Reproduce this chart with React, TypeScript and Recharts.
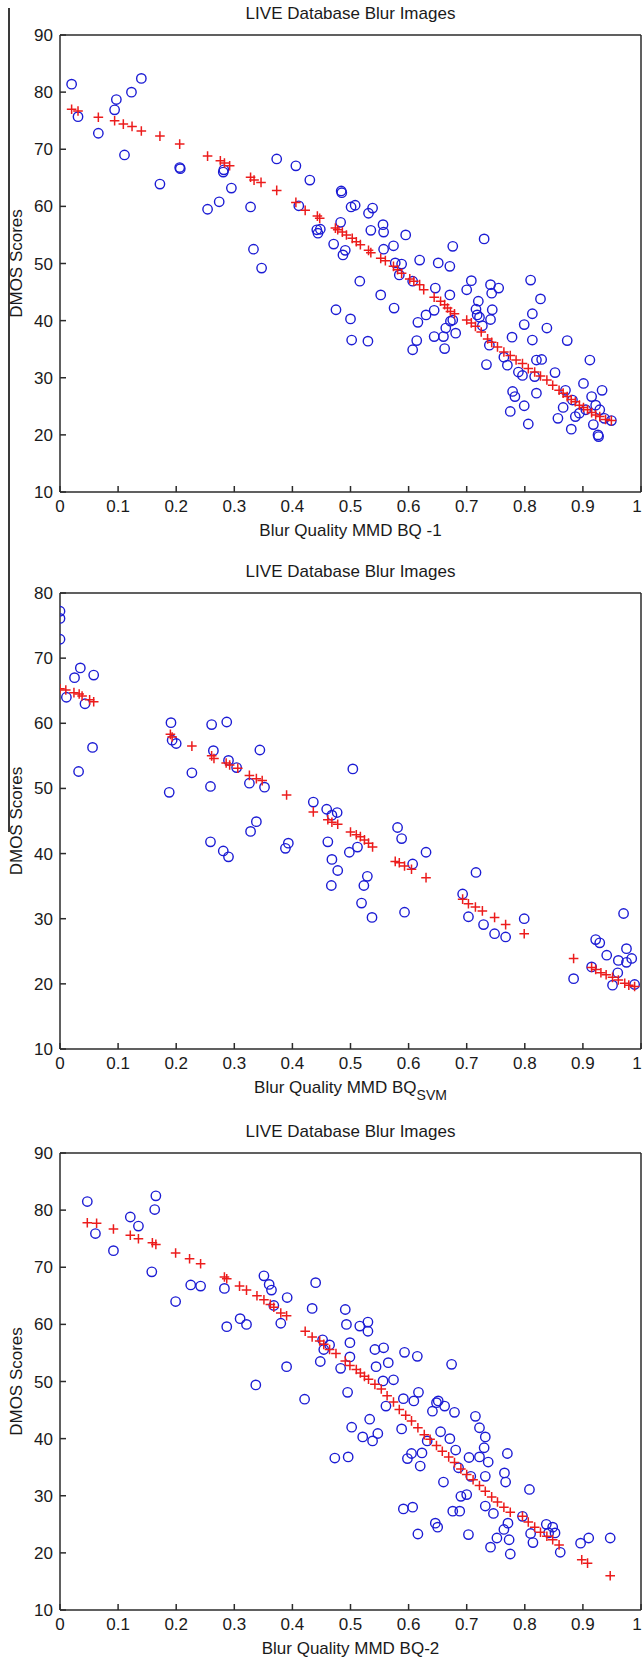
import React from 'react'
import { ScatterChart, Scatter, XAxis, YAxis, Label } from 'recharts'

const BLUE = '#1c1cd4'
const RED = '#ec1c1c'
const AXIS = '#2b2b2b'
const INK = '#1a1a1a'
const FONT = "'Liberation Sans', Arial, Helvetica, sans-serif"

const TITLE = 'LIVE Database Blur Images'
const Y_LABEL = 'DMOS Scores'
const X_TICKS = [0, 0.1, 0.2, 0.3, 0.4, 0.5, 0.6, 0.7, 0.8, 0.9, 1]
const Y_TICKS_90 = [10, 20, 30, 40, 50, 60, 70, 80, 90]
const Y_TICKS_80 = [10, 20, 30, 40, 50, 60, 70, 80]

type Pt = [number, number]

// BQ-1: subjective scores (circles) and fitted values (plus signs)
const bq1Scores: Pt[] = [
  [0.020, 81.4], [0.031, 75.7], [0.066, 72.8], [0.094, 76.9], [0.097, 78.7], [0.111, 69.0], [0.123, 80.0], [0.140, 82.4],
  [0.172, 63.9], [0.206, 66.8], [0.207, 66.6], [0.254, 59.5], [0.274, 60.8], [0.281, 66.0], [0.282, 66.4], [0.295, 63.2],
  [0.328, 59.9], [0.333, 52.5], [0.347, 49.2], [0.373, 68.3], [0.406, 67.1], [0.411, 60.1], [0.430, 64.6], [0.442, 55.9],
  [0.444, 55.3], [0.448, 56.0], [0.471, 53.4], [0.475, 41.9], [0.484, 62.7], [0.485, 62.4], [0.483, 57.2], [0.487, 51.5],
  [0.491, 52.3], [0.501, 59.9], [0.500, 40.3], [0.508, 60.2], [0.516, 46.9], [0.531, 58.8], [0.535, 55.8], [0.538, 59.7],
  [0.552, 44.5], [0.556, 56.8], [0.557, 55.5], [0.557, 52.5], [0.574, 53.1], [0.575, 42.2], [0.577, 50.1], [0.588, 49.9],
  [0.584, 48.0], [0.595, 55.0], [0.607, 46.9], [0.619, 50.6], [0.646, 45.7], [0.644, 41.8], [0.651, 50.1], [0.671, 49.5],
  [0.671, 44.5], [0.676, 53.0], [0.700, 45.4], [0.708, 47.0], [0.730, 54.3], [0.720, 43.4], [0.716, 42.0], [0.718, 41.0],
  [0.741, 46.3], [0.743, 44.8], [0.755, 45.7], [0.744, 41.9], [0.810, 47.1], [0.827, 43.8], [0.813, 41.2], [0.799, 39.3],
  [0.838, 38.7], [0.630, 41.0], [0.616, 39.7], [0.676, 40.1], [0.664, 38.7], [0.741, 40.2], [0.502, 36.6], [0.530, 36.4],
  [0.607, 34.9], [0.614, 36.5], [0.644, 37.2], [0.660, 37.2], [0.662, 35.1], [0.672, 39.9], [0.681, 37.8], [0.722, 40.6],
  [0.727, 39.1], [0.734, 32.3], [0.739, 35.7], [0.764, 33.6], [0.770, 32.2], [0.775, 24.1], [0.778, 37.1], [0.779, 27.6],
  [0.783, 26.7], [0.789, 31.0], [0.796, 30.4], [0.799, 25.1], [0.806, 21.9], [0.813, 36.6], [0.817, 30.2], [0.820, 33.1],
  [0.820, 27.3], [0.829, 33.2], [0.852, 30.9], [0.857, 22.9], [0.866, 24.8], [0.870, 27.8], [0.873, 36.5], [0.880, 21.0],
  [0.882, 26.1], [0.887, 23.2], [0.894, 23.8], [0.901, 29.0], [0.905, 24.4], [0.912, 33.1], [0.915, 26.7], [0.918, 21.8],
  [0.926, 20.0], [0.927, 19.7], [0.933, 27.8], [0.937, 22.9], [0.949, 22.5], [0.922, 25.2], [0.929, 24.4],
]
const bq1Fit: Pt[] = [
  [0.020, 77.0], [0.031, 76.7], [0.066, 75.6], [0.094, 75.0], [0.109, 74.4], [0.124, 74.0], [0.140, 73.2], [0.172, 72.3],
  [0.206, 70.9], [0.254, 68.8], [0.276, 68.0], [0.283, 67.6], [0.292, 67.1], [0.328, 65.1], [0.334, 64.6], [0.346, 64.2],
  [0.373, 62.8], [0.406, 60.7], [0.422, 59.3], [0.443, 58.3], [0.447, 57.9], [0.474, 56.2], [0.478, 55.9], [0.486, 55.5],
  [0.493, 55.0], [0.503, 54.4], [0.510, 53.8], [0.517, 53.3], [0.531, 52.3], [0.535, 51.9], [0.552, 50.9], [0.560, 50.5],
  [0.574, 49.5], [0.581, 48.9], [0.588, 48.3], [0.602, 47.3], [0.609, 46.9], [0.619, 46.3], [0.626, 45.4], [0.644, 44.1],
  [0.655, 43.4], [0.662, 42.8], [0.667, 42.2], [0.672, 41.6], [0.679, 41.2], [0.700, 40.1], [0.708, 39.6], [0.715, 39.0],
  [0.725, 38.0], [0.736, 36.8], [0.743, 36.2], [0.753, 35.4], [0.764, 34.5], [0.775, 33.9], [0.785, 33.1], [0.796, 32.5],
  [0.806, 31.6], [0.817, 31.0], [0.827, 30.3], [0.838, 29.6], [0.848, 28.7], [0.859, 27.8], [0.866, 27.3], [0.873, 26.7],
  [0.880, 26.2], [0.887, 25.8], [0.894, 25.2], [0.901, 24.8], [0.908, 24.4], [0.915, 23.9], [0.922, 23.5], [0.929, 23.2],
  [0.939, 22.7], [0.949, 22.5],
]

// BQ-SVM
const svmScores: Pt[] = [
  [0.000, 77.2], [0.000, 76.1], [0.000, 72.9], [0.011, 64.0], [0.025, 67.0], [0.035, 68.5], [0.032, 52.6], [0.043, 63.0],
  [0.058, 67.4], [0.056, 56.3], [0.191, 60.1], [0.188, 49.4], [0.193, 57.4], [0.200, 56.9], [0.227, 52.4], [0.261, 59.8],
  [0.259, 50.3], [0.264, 55.8], [0.287, 60.2], [0.290, 54.3], [0.304, 53.2], [0.326, 50.8], [0.328, 43.4], [0.338, 44.9],
  [0.344, 55.9], [0.352, 50.2], [0.436, 47.9], [0.459, 46.8], [0.468, 45.9], [0.477, 46.3], [0.504, 53.0], [0.581, 44.0],
  [0.588, 42.3], [0.259, 41.8], [0.281, 40.4], [0.290, 39.5], [0.388, 40.8], [0.393, 41.6], [0.461, 41.8], [0.468, 39.1],
  [0.467, 35.1], [0.478, 37.4], [0.498, 40.2], [0.512, 41.0], [0.519, 32.4], [0.523, 35.1], [0.529, 36.5], [0.537, 30.2],
  [0.593, 31.0], [0.607, 38.4], [0.630, 40.2], [0.693, 33.8], [0.703, 30.3], [0.716, 37.1], [0.729, 29.1], [0.748, 27.7],
  [0.767, 27.2], [0.799, 30.0], [0.884, 20.8], [0.915, 22.6], [0.922, 26.8], [0.929, 26.3], [0.941, 24.4], [0.951, 19.8],
  [0.960, 21.7], [0.961, 23.6], [0.970, 30.8], [0.975, 25.4], [0.975, 23.3], [0.984, 23.9], [0.989, 19.9],
]
const svmFit: Pt[] = [
  [0.000, 65.3], [0.010, 65.1], [0.024, 64.7], [0.033, 64.5], [0.038, 64.2], [0.051, 63.6], [0.058, 63.3], [0.190, 58.3],
  [0.193, 57.9], [0.227, 56.5], [0.261, 55.0], [0.265, 54.6], [0.286, 53.9], [0.292, 53.6], [0.306, 53.1], [0.326, 52.0],
  [0.338, 51.5], [0.348, 51.2], [0.390, 49.0], [0.436, 46.4], [0.461, 45.2], [0.468, 44.8], [0.478, 44.5], [0.500, 43.3],
  [0.510, 42.9], [0.517, 42.6], [0.524, 42.1], [0.531, 41.6], [0.538, 41.0], [0.577, 38.8], [0.584, 38.6], [0.593, 38.1],
  [0.605, 37.6], [0.630, 36.3], [0.693, 33.0], [0.703, 32.3], [0.715, 31.8], [0.727, 31.2], [0.748, 30.2], [0.767, 29.1],
  [0.799, 27.7], [0.884, 23.9], [0.915, 22.5], [0.922, 22.2], [0.931, 21.7], [0.940, 21.4], [0.951, 21.0], [0.961, 20.6],
  [0.972, 20.1], [0.979, 19.8], [0.989, 19.6],
]

// BQ-2
const bq2Scores: Pt[] = [
  [0.047, 81.5], [0.061, 75.9], [0.092, 72.9], [0.121, 78.8], [0.135, 77.2], [0.158, 69.2], [0.163, 80.1], [0.165, 82.5],
  [0.199, 64.0], [0.225, 66.9], [0.242, 66.7], [0.283, 66.3], [0.287, 59.6], [0.310, 61.0], [0.321, 60.0], [0.351, 68.5],
  [0.360, 67.0], [0.364, 66.0], [0.368, 63.3], [0.380, 60.2], [0.391, 64.7], [0.390, 52.6], [0.434, 62.8], [0.440, 67.3],
  [0.448, 53.5], [0.452, 57.3], [0.464, 56.4], [0.454, 55.6], [0.483, 52.3], [0.491, 62.6], [0.493, 60.0], [0.499, 56.8],
  [0.499, 54.3], [0.516, 59.7], [0.530, 60.4], [0.530, 58.8], [0.542, 55.6], [0.544, 52.6], [0.557, 55.9], [0.565, 53.3],
  [0.593, 55.1], [0.615, 54.4], [0.674, 53.0], [0.337, 49.4], [0.421, 46.9], [0.473, 36.6], [0.496, 36.8], [0.495, 48.1],
  [0.502, 42.0], [0.521, 40.3], [0.533, 43.4], [0.538, 39.6], [0.547, 40.9], [0.556, 50.1], [0.574, 50.3], [0.561, 45.7],
  [0.591, 47.0], [0.588, 41.7], [0.591, 27.7], [0.607, 28.0], [0.598, 36.5], [0.605, 37.4], [0.609, 46.6], [0.617, 48.1],
  [0.616, 23.3], [0.620, 35.2], [0.623, 37.5], [0.632, 39.6], [0.641, 44.8], [0.648, 46.3], [0.651, 46.6], [0.646, 25.2],
  [0.650, 24.5], [0.655, 41.2], [0.660, 32.4], [0.662, 45.7], [0.671, 40.0], [0.676, 27.3], [0.679, 44.6], [0.681, 38.0],
  [0.686, 34.9], [0.690, 29.9], [0.688, 27.3], [0.700, 30.2], [0.703, 23.2], [0.704, 36.7], [0.707, 33.4], [0.715, 43.9],
  [0.722, 41.9], [0.722, 36.8], [0.730, 38.4], [0.732, 33.4], [0.732, 40.3], [0.732, 28.2], [0.737, 35.9], [0.741, 21.0],
  [0.746, 26.9], [0.752, 22.6], [0.764, 24.1], [0.765, 34.0], [0.767, 32.4], [0.770, 37.4], [0.771, 25.2], [0.773, 22.3],
  [0.775, 19.8], [0.796, 26.4], [0.808, 31.1], [0.810, 23.4], [0.814, 21.8], [0.837, 25.0], [0.841, 23.5], [0.848, 24.5],
  [0.852, 23.5], [0.861, 20.1], [0.896, 21.7], [0.910, 22.6], [0.947, 22.6],
]
const bq2Fit: Pt[] = [
  [0.047, 77.8], [0.063, 77.7], [0.092, 76.7], [0.121, 75.6], [0.135, 75.0], [0.159, 74.3], [0.165, 74.0], [0.199, 72.5],
  [0.223, 71.5], [0.242, 70.6], [0.283, 68.3], [0.287, 68.0], [0.309, 66.7], [0.321, 66.0], [0.339, 65.0], [0.351, 64.3],
  [0.362, 63.5], [0.368, 63.0], [0.380, 62.0], [0.390, 61.5], [0.422, 58.8], [0.434, 57.8], [0.447, 57.1], [0.454, 56.5],
  [0.464, 55.6], [0.475, 54.9], [0.491, 53.6], [0.499, 52.8], [0.510, 52.1], [0.517, 51.5], [0.524, 50.9], [0.531, 50.4],
  [0.542, 49.5], [0.553, 48.7], [0.563, 47.5], [0.574, 46.4], [0.584, 45.1], [0.595, 44.1], [0.605, 43.1], [0.616, 41.9],
  [0.627, 40.7], [0.637, 39.9], [0.648, 38.8], [0.658, 37.8], [0.669, 36.8], [0.679, 35.8], [0.690, 34.7], [0.700, 33.7],
  [0.711, 32.8], [0.722, 31.8], [0.732, 30.8], [0.743, 29.8], [0.753, 28.9], [0.764, 28.0], [0.775, 27.1], [0.796, 26.4],
  [0.806, 25.4], [0.817, 24.5], [0.827, 23.6], [0.838, 22.9], [0.848, 22.3], [0.859, 21.4], [0.898, 18.8], [0.908, 18.2],
  [0.947, 16.0],
]

const toRows = (pts: Pt[]) => pts.map(([x, y]) => ({ x, y }))

const Ring = (p: any) => <circle cx={p.cx} cy={p.cy} r={4.7} fill="none" stroke={BLUE} strokeWidth={1.4} />
const Plus = (p: any) => (
  <path d={`M${p.cx - 4.8},${p.cy}h9.6M${p.cx},${p.cy - 4.8}v9.6`} stroke={RED} strokeWidth={1.5} fill="none" />
)

const tickStyle = { fontSize: 17, fontFamily: FONT, fill: INK }

// bottom tick labels; the last one is nudged left so it stays on the page
const XTick = (p: any) => {
  const v = p.payload.value
  const shift = v === 1 ? -4 : 0
  return (
    <text x={p.x + shift} y={p.y} dy="0.71em" textAnchor="middle" {...tickStyle}>
      {String(v)}
    </text>
  )
}

interface PanelProps {
  top: number
  height: number
  margin: { top: number; right: number; bottom: number; left: number }
  yMax: number
  yTicks: number[]
  scores: Pt[]
  fit: Pt[]
  xLabel: string
  xSub?: string
}

function Panel({ top, height, margin, yMax, yTicks, scores, fit, xLabel, xSub }: PanelProps) {
  const titleContent = (props: any) => {
    const vb = props.viewBox
    return (
      <text x={vb.x + vb.width / 2} y={vb.y - 15} textAnchor="middle" fontSize={17} fontFamily={FONT} fill={INK}>
        {TITLE}
      </text>
    )
  }
  const xLabelContent = (props: any) => {
    const vb = props.viewBox
    return (
      <text x={vb.x + vb.width / 2} y={vb.y + 44} textAnchor="middle" fontSize={17} fontFamily={FONT} fill={INK}>
        {xLabel}
        {xSub && <tspan dy={7} fontSize={14}>{xSub}</tspan>}
      </text>
    )
  }
  const yLabelContent = (props: any) => {
    const vb = props.viewBox
    const cx = vb.x + 16
    const cy = vb.y + vb.height / 2
    return (
      <text x={cx} y={cy} transform={`rotate(-90, ${cx}, ${cy})`} textAnchor="middle" dominantBaseline="central"
        fontSize={17} fontFamily={FONT} fill={INK}>
        {Y_LABEL}
      </text>
    )
  }

  return (
    <div style={{ position: 'absolute', left: 0, top }}>
      <ScatterChart width={643} height={height} margin={margin}>
        <XAxis type="number" dataKey="x" domain={[0, 1]} ticks={X_TICKS} interval={0} height={50}
          tickSize={-6} tickMargin={14} tick={XTick} stroke={AXIS} strokeWidth={1.5} allowDataOverflow>
          <Label content={xLabelContent} />
        </XAxis>
        <XAxis xAxisId="top" orientation="top" type="number" domain={[0, 1]} ticks={X_TICKS} interval={0} height={1}
          tickSize={-6} tick={false} stroke={AXIS} strokeWidth={1.5} allowDataOverflow>
          <Label content={titleContent} />
        </XAxis>
        <YAxis type="number" dataKey="y" domain={[10, yMax]} ticks={yTicks} interval={0} width={60}
          tickSize={-6} tickMargin={13} tick={tickStyle} stroke={AXIS} strokeWidth={1.5} allowDataOverflow>
          <Label content={yLabelContent} />
        </YAxis>
        <YAxis yAxisId="right" orientation="right" type="number" domain={[10, yMax]} ticks={yTicks} interval={0}
          width={1} tickSize={-6} tick={false} stroke={AXIS} strokeWidth={1.5} allowDataOverflow />
        <Scatter data={toRows(scores)} shape={Ring} isAnimationActive={false} />
        <Scatter data={toRows(fit)} shape={Plus} isAnimationActive={false} />
      </ScatterChart>
    </div>
  )
}

export default function App() {
  return (
    <div style={{ position: 'relative', width: 643, height: 1660, background: '#fff', overflow: 'hidden' }}>
      <style>{'body { margin: 0; }'}</style>
      {/* page rule running down the left column */}
      <div style={{ position: 'absolute', left: 8, top: 8, width: 1.5, height: 824, background: '#3a3a3a' }} />
      <Panel top={0} height={560} margin={{ top: 34, right: 1, bottom: 18, left: 0 }} yMax={90} yTicks={Y_TICKS_90}
        scores={bq1Scores} fit={bq1Fit} xLabel="Blur Quality MMD BQ -1" />
      <Panel top={560} height={560} margin={{ top: 32, right: 1, bottom: 21, left: 0 }} yMax={80} yTicks={Y_TICKS_80}
        scores={svmScores} fit={svmFit} xLabel="Blur Quality MMD BQ" xSub="SVM" />
      <Panel top={1120} height={540} margin={{ top: 32, right: 1, bottom: 0, left: 0 }} yMax={90} yTicks={Y_TICKS_90}
        scores={bq2Scores} fit={bq2Fit} xLabel="Blur Quality MMD BQ-2" />
    </div>
  )
}
